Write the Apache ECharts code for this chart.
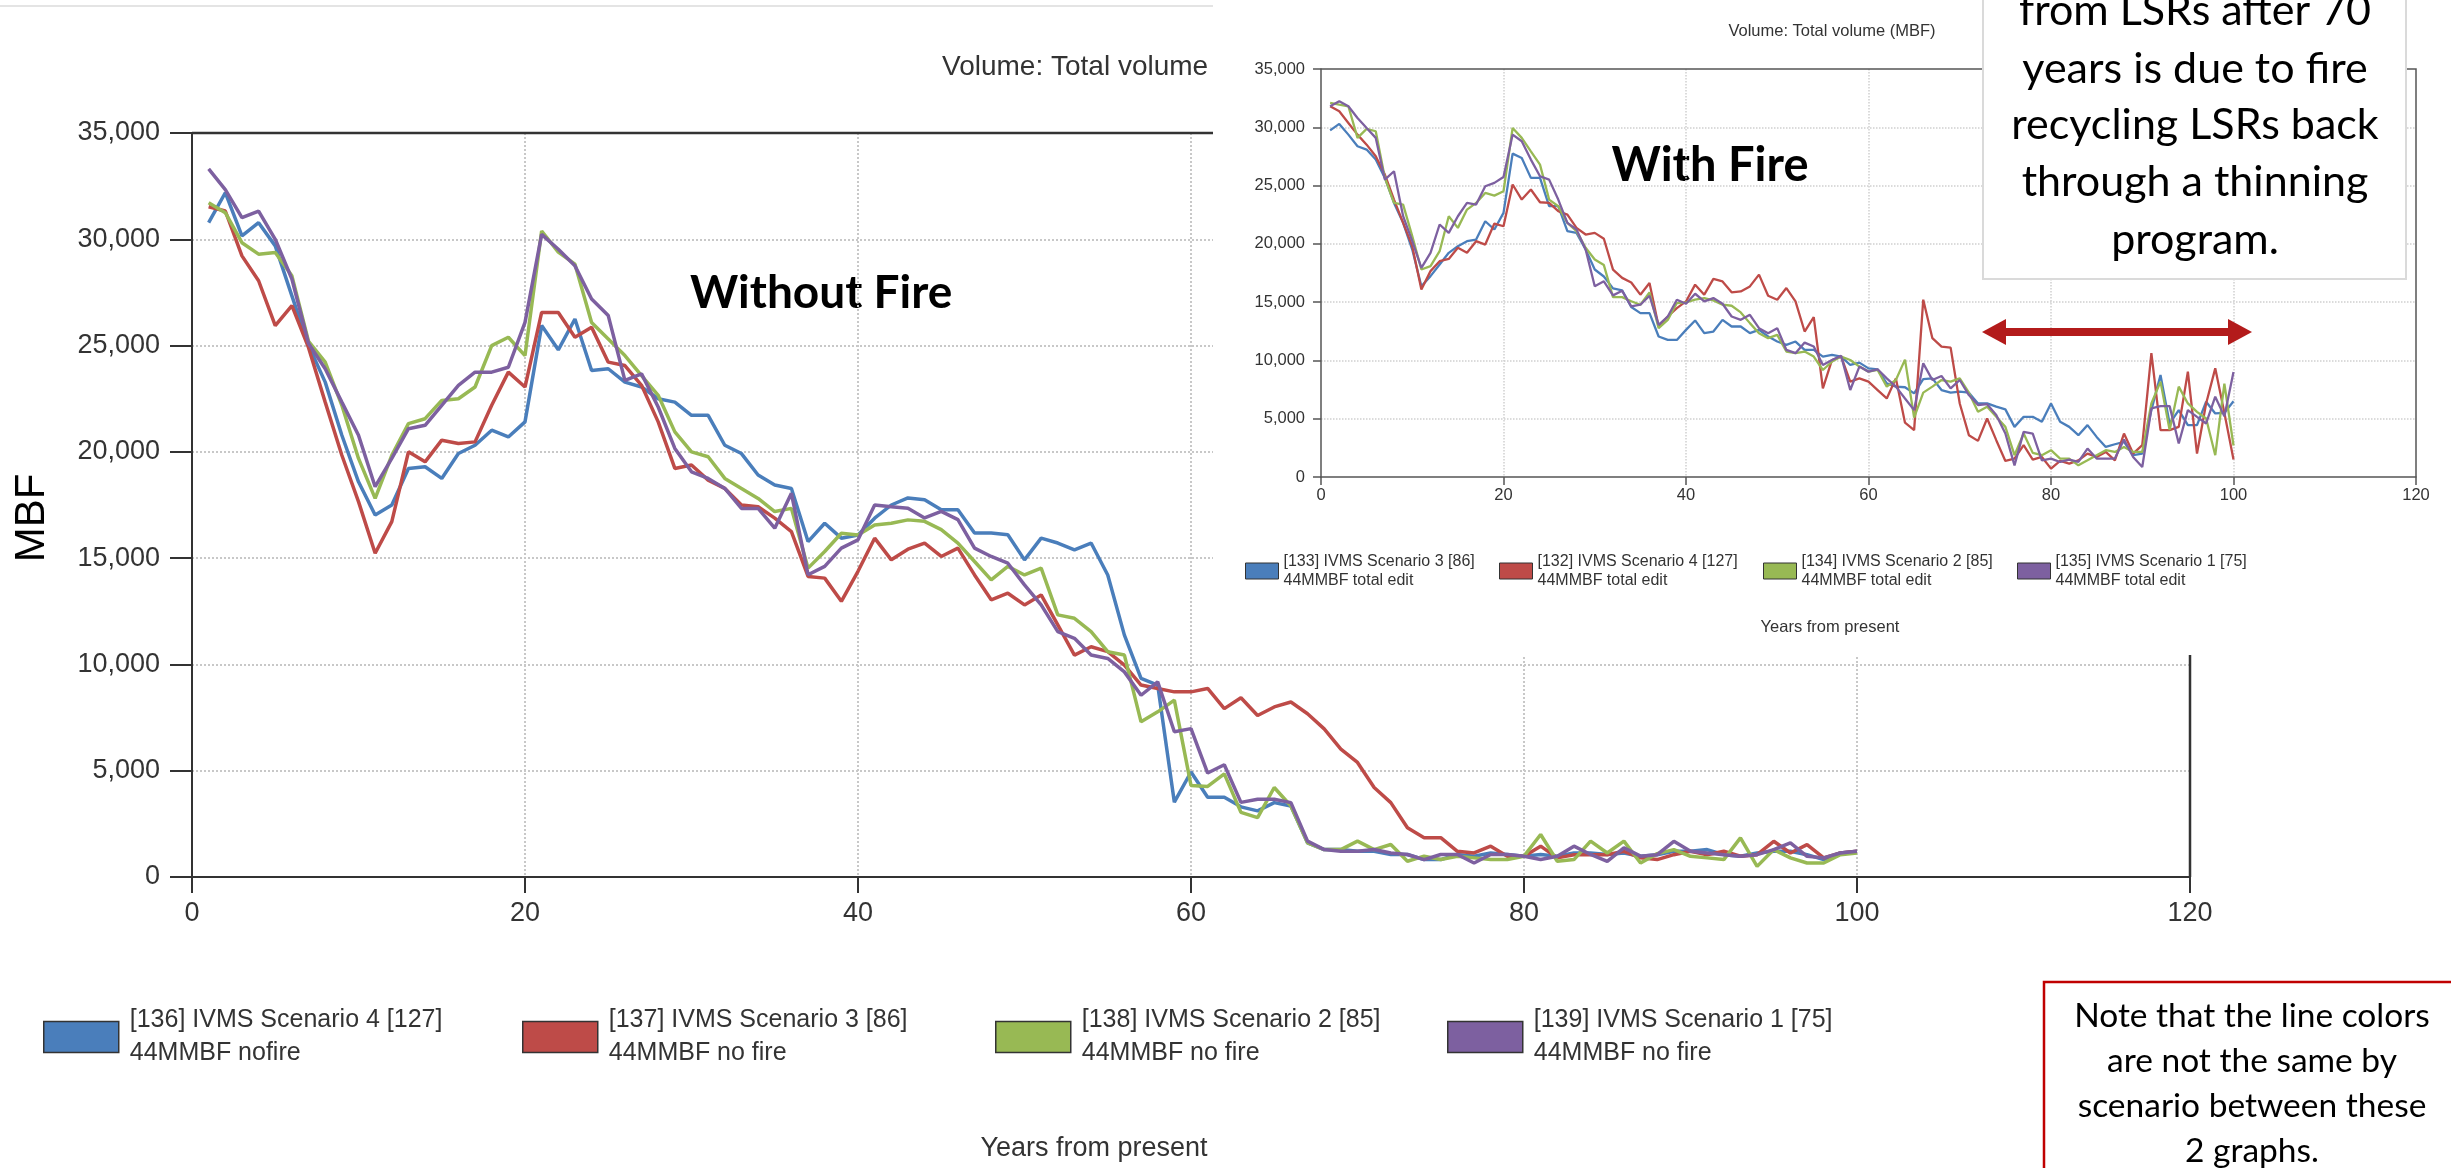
<!DOCTYPE html>
<html><head><meta charset="utf-8">
<script src="https://cdn.jsdelivr.net/npm/echarts@6/dist/echarts.min.js"></script>
<style>
html,body{margin:0;padding:0;background:#fff;width:2451px;height:1168px;overflow:hidden}
#main{position:absolute;left:0;top:0;width:2451px;height:1168px}
#inset{position:absolute;left:1213px;top:0;width:1238px;height:655px;background:#fff}
</style></head><body>
<div id="main"></div><div id="inset"></div>
<script>
// ---------- DATA ----------
const years = Array.from({length: 100}, (_, i) => i + 1);
const xTicks = [0, 20, 40, 60, 80, 100, 120];

// Main chart (without fire)
const mainNames = ['[136] IVMS Scenario 4 [127]', '[137] IVMS Scenario 3 [86]', '[138] IVMS Scenario 2 [85]', '[139] IVMS Scenario 1 [75]'];
const mainSub = ['44MMBF nofire', '44MMBF no fire', '44MMBF no fire', '44MMBF no fire'];
const mainBlue = [30780,32190,30160,30780,29690,27340,25000,23280,20780,18590,17030,17500,19220,19300,18750,19920,20310,21020,20700,21410,
25940,24800,26250,23830,23910,23280,23050,22500,22340,21720,21720,20310,19920,18910,18440,18280,15780,16640,15940,16090,
16880,17500,17830,17750,17280,17280,16180,16180,16100,14920,15940,15710,15390,15710,14210,11380,9340,9030,3520,4940,
3750,3750,3300,3110,3500,3340,1610,1290,1290,1210,1210,1060,1060,820,820,1060,980,1130,1060,980,
1060,980,1130,1130,1060,1130,980,1050,1210,1210,1290,1050,975,1130,1210,1210,1050,820,1130,1210];
const mainRed = [31530,31330,29220,28050,25940,26880,24900,22340,19840,17660,15230,16720,20000,19530,20550,20390,20470,22190,23750,23050,
26560,26560,25390,25860,24220,24060,23130,21410,19220,19380,18670,18280,17500,17420,16880,16250,14140,14060,12970,14380,
15940,14920,15420,15710,15080,15470,14210,13040,13350,12800,13270,11860,10440,10830,10600,9970,9030,8870,8710,8710,
8870,7920,8430,7600,8000,8230,7680,6970,6020,5390,4210,3500,2320,1850,1850,1210,1130,1450,980,980,
1450,900,1050,1050,1050,1210,900,820,1050,1210,1050,1210,975,1050,1680,1130,1525,896,1130,1210];
const mainGreen = [31720,31250,29840,29300,29380,28280,25200,24220,22190,19690,17810,19840,21330,21560,22420,22500,23050,25000,25390,24530,
30390,29400,28830,26090,25310,24530,23590,22660,20940,20000,19770,18750,18280,17810,17190,17340,14530,15310,16170,16090,
16560,16640,16800,16730,16340,15710,14840,13980,14610,14210,14530,12330,12170,11540,10600,10440,7300,7770,8320,4310,
4260,4850,3040,2790,4210,3340,1610,1290,1290,1690,1290,1530,740,980,820,980,900,820,820,980,
2000,740,820,1690,1130,1690,660,1100,1290,975,900,820,1840,500,1290,900,660,660,1050,1130];
const mainPurple = [33310,32340,31020,31330,30000,28130,25100,23910,22340,20780,18360,19690,21090,21250,22190,23130,23750,23750,23980,26090,
30230,29530,28750,27190,26410,23360,23670,22110,20160,19060,18750,18280,17340,17340,16410,18050,14220,14610,15470,15860,
17500,17420,17350,16890,17200,16810,15470,15080,14760,13740,12800,11540,11230,10440,10280,9650,8550,9180,6830,6980,
4890,5280,3510,3660,3660,3500,1690,1290,1210,1210,1290,1130,1060,820,1060,1060,660,1060,1060,980,
820,980,1450,1060,740,1370,980,1050,1680,1210,1130,1050,975,1050,1290,1600,975,900,1130,1210];

// Inset chart (with fire)
const insetNames = ['[133] IVMS Scenario 3 [86]', '[132] IVMS Scenario 4 [127]', '[134] IVMS Scenario 2 [85]', '[135] IVMS Scenario 1 [75]'];
const insetSub = '44MMBF total edit';
const fireBlue = [29740,30290,29370,28370,28090,27230,25660,23510,21800,19510,16370,17230,18230,19230,19800,20230,20370,21940,21230,22660,
27740,27370,25660,25660,23230,23230,21090,20940,19510,17800,17200,16180,16020,14580,14060,14060,12050,11760,11760,12620,
13430,12340,12480,13480,12910,12910,12340,12620,12050,11620,11330,11620,10900,10900,10330,10470,10330,9610,9810,9320,
9240,8030,7750,7700,7170,8400,8460,7460,7230,7320,7230,6310,6310,6030,5800,4300,5160,5160,4730,6310,
4730,4300,3590,4450,3440,2580,2810,3010,1870,2010,5740,8750,4590,5740,4450,4450,6460,5450,5500,6500];
const fireRed = [31800,31370,30370,29370,28510,27510,25940,23800,21800,19800,16090,17660,18510,18710,19660,19230,20230,19940,21740,21510,
25090,23800,24660,23570,23510,22800,22510,21370,20800,20940,20440,17790,17080,16680,15640,16640,12910,13770,14490,15060,
16500,15640,16990,16780,15840,15920,16350,17360,15550,15210,16210,15060,12480,13710,7600,10040,10330,8180,8460,8180,
7460,6740,8460,4660,4020,15210,11910,11190,11100,6310,3590,3100,5020,3160,1380,1580,2730,1490,1720,720,
1380,1150,1430,2010,1720,2150,1430,3730,2010,2730,10620,4020,4020,4300,9040,2010,6310,9320,5500,1500];
const fireGreen = [32090,31940,31800,29090,29860,29660,25660,23510,23370,20660,17800,18090,19370,22370,21370,22940,23510,24370,24140,24510,
29940,29090,27940,26800,23800,23230,21800,21090,19660,18660,18180,15430,15430,15080,14780,15840,12770,13480,14920,14980,
15210,15350,15150,14780,14690,14120,13200,12340,11910,12190,10760,10620,10760,10330,9180,9900,10330,10040,9470,9040,
9180,7750,8320,10070,5090,7240,7750,8320,8180,8460,7230,5590,6030,5160,4300,1870,3730,2070,1870,2300,
1580,1580,1000,1430,1870,2300,2150,2580,2150,2150,6310,8180,4020,7750,6310,5590,5020,1870,8000,2700];
const firePurple = [31800,32230,31800,30800,29940,29090,25510,26230,22370,20230,17940,19230,21660,20940,22370,23510,23370,24940,25230,25740,
29370,28800,27230,25800,25510,23800,21800,21230,19510,16370,16790,15580,15970,14640,14780,15550,13050,13770,15210,14860,
15720,15060,15350,14860,13770,13480,13910,12770,12340,12770,10900,10620,11530,11190,9610,10040,10390,7460,9470,9040,
9240,8460,7750,6740,5740,9750,8320,8660,7600,8320,7030,6170,6250,5310,3730,1000,3870,3730,1430,1580,
1290,1490,1290,2440,1580,1580,1580,3210,1720,860,5880,6080,6080,2870,5740,5160,4590,6890,5200,9000];

// ---------- STYLE ----------
const COLORS = {blue:'#4A7EBB', red:'#BE4B48', green:'#98B954', purple:'#7D60A0'};
const SANS = "'Liberation Sans', Arial, sans-serif";
const CAL = "Lato, 'Open Sans', sans-serif";
const fmt = v => v.toLocaleString('en-US');
const pairs = arr => years.map((y, i) => [y, arr[i]]);

// ---------- MAIN CHART ----------
const mainSeriesData = [mainBlue, mainRed, mainGreen, mainPurple];
const mainColors = [COLORS.blue, COLORS.red, COLORS.green, COLORS.purple];
const mainLegendX = [38, 517, 990, 1442];
const MG = {l: 192, t: 133, r: 2190, b: 877};
const main = echarts.init(document.getElementById('main'));
main.setOption({
  animation: false,
  backgroundColor: '#fff',
  title: {text: 'Volume: Total volume (MBF)', left: 937, top: 48,
    textStyle: {fontFamily: SANS, fontSize: 28, fontWeight: 'normal', color: '#333'}},
  grid: {left: MG.l, top: MG.t, width: MG.r - MG.l, height: MG.b - MG.t},
  xAxis: {type: 'value', min: 0, max: 120, interval: 20,
    axisLine: {lineStyle: {color: '#333', width: 2}},
    axisTick: {length: 16, lineStyle: {color: '#333', width: 2}},
    axisLabel: {margin: 23, fontFamily: SANS, fontSize: 27, color: '#333'},
    splitLine: {show: true, showMinLine: false, showMaxLine: false, lineStyle: {type: 'dotted', color: '#c8c8c8', width: 2}}},
  yAxis: {type: 'value', min: 0, max: 35000, interval: 5000,
    axisLine: {show: true, lineStyle: {color: '#333', width: 2}},
    axisTick: {show: true, length: 22, lineStyle: {color: '#333', width: 2}},
    axisLabel: {margin: 32, fontFamily: SANS, fontSize: 27, color: '#333', formatter: fmt},
    splitLine: {show: true, showMinLine: false, showMaxLine: false, lineStyle: {type: 'dotted', color: '#c8c8c8', width: 2}}},
  legend: mainNames.map((n, i) => ({
    data: [n], left: mainLegendX[i], top: 999, icon: 'rect', itemWidth: 75, itemHeight: 31, itemGap: 0,
    selectedMode: false, formatter: '{name}\n' + mainSub[i],
    itemStyle: {borderColor: '#333', borderWidth: 1.5},
    textStyle: {fontFamily: SANS, fontSize: 25, lineHeight: 33, color: '#333', padding: [0, 0, 0, 6]}
  })),
  series: mainNames.map((n, i) => ({
    name: n, type: 'line', data: pairs(mainSeriesData[i]), showSymbol: false, symbol: 'none',
    lineStyle: {color: mainColors[i], width: 3.5}, itemStyle: {color: mainColors[i]}
  })),
  graphic: [
    {type: 'line', shape: {x1: 0, y1: 6, x2: 1213, y2: 6}, style: {stroke: '#e4e4e4', lineWidth: 2}},
    {type: 'polyline', z: 5, shape: {points: [[MG.l, MG.t], [MG.r, MG.t], [MG.r, MG.b]]}, style: {stroke: '#333', lineWidth: 2.5, fill: null}},
    {type: 'text', x: 32, y: 518, rotation: Math.PI / 2,
      style: {text: 'MBF', font: '42px ' + SANS, fill: '#000', align: 'center', verticalAlign: 'middle'}},
    {type: 'text', x: 690, y: 293,
      style: {text: 'Without Fire', font: 'bold 46px ' + CAL, fill: '#000', align: 'left', verticalAlign: 'middle'}},
    {type: 'text', x: 1094, y: 1149,
      style: {text: 'Years from present', font: '27px ' + SANS, fill: '#333', align: 'center', verticalAlign: 'middle'}},
    {type: 'rect', z: 10, shape: {x: 2044, y: 982, width: 430, height: 210}, style: {fill: '#fff', stroke: '#C00000', lineWidth: 2.5}},
    {type: 'text', z: 11, x: 2252, y: 1016, style: {text: 'Note that the line colors', font: '33.5px ' + CAL, fill: '#000', align: 'center', verticalAlign: 'middle'}},
    {type: 'text', z: 11, x: 2252, y: 1061, style: {text: 'are not the same by', font: '33.5px ' + CAL, fill: '#000', align: 'center', verticalAlign: 'middle'}},
    {type: 'text', z: 11, x: 2252, y: 1106, style: {text: 'scenario between these', font: '33.5px ' + CAL, fill: '#000', align: 'center', verticalAlign: 'middle'}},
    {type: 'text', z: 11, x: 2252, y: 1151, style: {text: '2 graphs.', font: '33.5px ' + CAL, fill: '#000', align: 'center', verticalAlign: 'middle'}}
  ]
});

// ---------- INSET CHART ----------
const fireSeriesData = [fireBlue, fireRed, fireGreen, firePurple];
const insetLegendX = [27, 281, 545, 799];
const IG = {l: 108, t: 69, r: 1203, b: 477};
const inset = echarts.init(document.getElementById('inset'));
const boxLines = ['from LSRs after 70', 'years is due to fire', 'recycling LSRs back', 'through a thinning', 'program.'];
const boxY = [11, 69, 125, 182, 240];
const arrowColor = '#B31B1B';
inset.setOption({
  animation: false,
  backgroundColor: '#fff',
  grid: {left: IG.l, top: IG.t, width: IG.r - IG.l, height: IG.b - IG.t},
  xAxis: {type: 'value', min: 0, max: 120, interval: 20,
    axisLine: {lineStyle: {color: '#555', width: 1.5}},
    axisTick: {length: 8, lineStyle: {color: '#555', width: 1.5}},
    axisLabel: {margin: 10, fontFamily: SANS, fontSize: 16.5, color: '#333'},
    splitLine: {show: true, showMinLine: false, showMaxLine: false, lineStyle: {type: 'dotted', color: '#d0d0d0', width: 1.5}}},
  yAxis: {type: 'value', min: 0, max: 35000, interval: 5000,
    axisLine: {show: true, lineStyle: {color: '#555', width: 1.5}},
    axisTick: {show: true, length: 8, lineStyle: {color: '#555', width: 1.5}},
    axisLabel: {margin: 16, fontFamily: SANS, fontSize: 16.5, color: '#333', formatter: fmt},
    splitLine: {show: true, showMinLine: false, showMaxLine: false, lineStyle: {type: 'dotted', color: '#d0d0d0', width: 1.5}}},
  legend: insetNames.map((n, i) => ({
    data: [n], left: insetLegendX[i], top: 547, icon: 'rect', itemWidth: 33, itemHeight: 16, itemGap: 0,
    selectedMode: false, formatter: '{name}\n' + insetSub,
    itemStyle: {borderColor: '#333', borderWidth: 1},
    textStyle: {fontFamily: SANS, fontSize: 16, lineHeight: 19, color: '#333', padding: [0, 0, 0, 0]}
  })),
  series: insetNames.map((n, i) => ({
    name: n, type: 'line', data: pairs(fireSeriesData[i]), showSymbol: false, symbol: 'none',
    lineStyle: {color: mainColors[i], width: 2.3}, itemStyle: {color: mainColors[i]}
  })),
  graphic: [
    {type: 'polyline', z: 5, shape: {points: [[IG.l, IG.t], [IG.r, IG.t], [IG.r, IG.b]]}, style: {stroke: '#555', lineWidth: 1.5, fill: null}},
    {type: 'text', x: 619, y: 31, style: {text: 'Volume: Total volume (MBF)', font: '16.5px ' + SANS, fill: '#333', align: 'center', verticalAlign: 'middle'}},
    {type: 'text', x: 497, y: 166, style: {text: 'With Fire', font: 'bold 47px ' + CAL, fill: '#000', align: 'center', verticalAlign: 'middle'}},
    {type: 'text', x: 617, y: 627, style: {text: 'Years from present', font: '16.5px ' + SANS, fill: '#333', align: 'center', verticalAlign: 'middle'}},
    {type: 'rect', z: 10, shape: {x: 770, y: -5, width: 423, height: 284}, style: {fill: '#fff', stroke: '#dadada', lineWidth: 2}}
  ].concat(boxLines.map((t, i) => ({type: 'text', z: 11, x: 982, y: boxY[i],
      style: {text: t, font: '43px ' + CAL, fill: '#000', align: 'center', verticalAlign: 'middle'}})))
   .concat([
    {type: 'line', z: 12, shape: {x1: 788, y1: 332, x2: 1020, y2: 332}, style: {stroke: arrowColor, lineWidth: 8}},
    {type: 'polygon', z: 12, shape: {points: [[769, 332], [793, 319], [793, 345]]}, style: {fill: arrowColor}},
    {type: 'polygon', z: 12, shape: {points: [[1039, 332], [1015, 319], [1015, 345]]}, style: {fill: arrowColor}}
  ])
});
</script>
</body></html>
